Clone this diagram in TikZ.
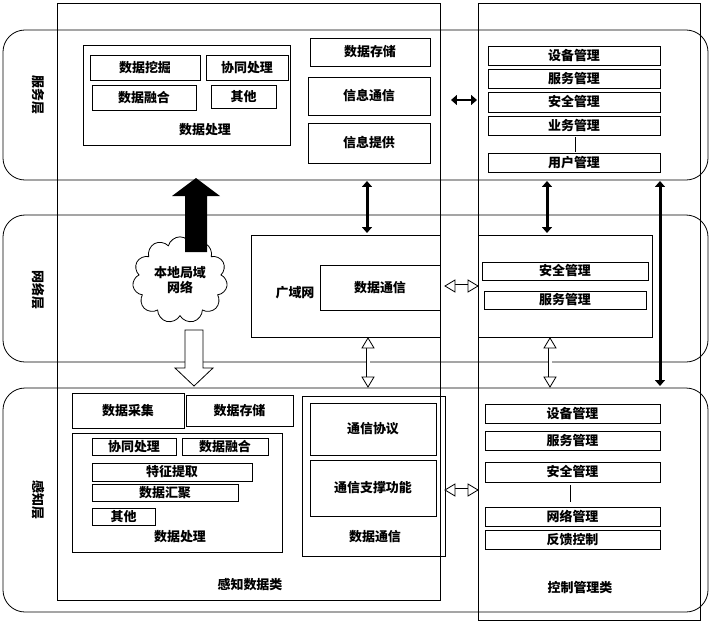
\documentclass[tikz,border=0pt]{standalone}
\usepackage{fontspec}
\setmainfont{Noto Sans CJK SC}
\usetikzlibrary{arrows.meta,shapes.geometric,shapes.symbols}
\begin{document}
\begin{tikzpicture}[x=0.0352cm,y=-0.0352cm,font=\fontsize{13}{15}\selectfont\bfseries]
\tikzstyle{box} = [rectangle, draw, thick, inner sep=0pt]
\tikzstyle{layer} = [rectangle, draw, thick, rounded corners=22pt]
\tikzstyle{tag} = [inner sep=1pt]
\tikzstyle{bigtwo} = [line width=3pt, {Triangle[length=6pt,width=10pt]}-{Triangle[length=6pt,width=10pt]}]
\tikzstyle{hollow} = [double, double distance=3pt, thick, white, draw=black]
\useasboundingbox (0,0) rectangle (711,627);
% columns
\draw[thick] (57,3) rectangle (440,600);
\draw[thick] (478,3) rectangle (700,620);
\node[tag] (col1) at (250,585) {感知数据类};
\node[tag] (col2) at (580,588) {控制管理类};
% layers
\draw[layer] (3,30) rectangle (708,180);
\draw[layer] (3,215) rectangle (708,362);
\draw[layer] (3,388) rectangle (708,612);
\node[tag,rotate=-90] (l1) at (38,95) {服务层};
\node[tag,rotate=-90] (l2) at (38,290) {网络层};
\node[tag,rotate=-90] (l3) at (38,500) {感知层};
% service layer
\draw[box] (83,45) rectangle (290,145);
\foreach \a/\b/\c/\d/\t in {90/55/200/80/数据挖掘, 206/55/288/80/协同处理, 92/85/196/110/数据融合, 211/85/276/108/其他,
  310/38/430/66/数据存储, 308/77/430/115/信息通信, 308/123/430/163/信息提供,
  488/46/660/65/设备管理, 488/69/660/88/服务管理, 488/92/660/112/安全管理, 488/116/660/135/业务管理, 488/153/660/172/用户管理}
  \draw[box] (\a,\b) rectangle node {\t} (\c,\d);
\node[tag] (proc1) at (205,130) {数据处理};
\draw (575,137) -- (575,152);
% network layer
\draw[box] (251,235) rectangle (440,337);
\draw[box] (478,235) rectangle (652,337);
\node[tag] (wan) at (295,293) {广域网};
\draw[box] (320,265) rectangle node {数据通信} (440,310);
\draw[box] (482,262) rectangle node {安全管理} (648,280);
\draw[box] (484,291) rectangle node {服务管理} (646,309);
\node[cloud, draw, thick, fill=white, cloud puffs=11, minimum width=95, minimum height=85, align=center, inner sep=0pt] (lan) at (180,280) {本地局域\\网络};
% perception layer
\draw[box] (72,393) rectangle node {数据采集} (184,428);
\draw[box] (186,395) rectangle node {数据存储} (293,426);
\draw[box] (72,433) rectangle (282,552);
\foreach \a/\b/\c/\d/\t in {92/438/176/455/协同处理, 182/438/268/455/数据融合, 92/463/252/481/特征提取, 92/484/238/501/数据汇聚, 92/508/155/525/其他,
  310/403/436/455/通信协议, 310/460/436/516/通信支撑功能,
  485/404/660/423/设备管理, 485/431/660/450/服务管理, 485/462/660/482/安全管理, 485/507/660/526/网络管理, 485/530/660/549/反馈控制}
  \draw[box] (\a,\b) rectangle node {\t} (\c,\d);
\draw[box] (302,396) rectangle (445,556);
\node[tag] (proc3) at (180,537) {数据处理};
\node[tag] (comm3) at (375,537) {数据通信};
\draw (570,485) -- (570,502);
% arrows
\fill (185,252) -- (185,196) -- (172,196) -- (196,178) -- (220,196) -- (207,196) -- (207,252) -- cycle;
\draw[thick,fill=white] (185,330) -- (185,368) -- (175,368) -- (194,386) -- (213,368) -- (203,368) -- (203,330) -- cycle;
\draw[bigtwo] (451,100) -- (477,100);
\draw[bigtwo] (367,181) -- (367,233);
\draw[bigtwo] (547,181) -- (547,233);
\draw[bigtwo] (660,181) -- (660,386);
\foreach \x/\y in {368/338, 550/338} {
  \draw[hollow] (\x,\y+8) -- (\x,\y+41);
  \draw[thick,fill=white] (\x-6,\y+10) -- (\x,\y) -- (\x+6,\y+10) -- cycle;
  \draw[thick,fill=white] (\x-6,\y+39) -- (\x,\y+49) -- (\x+6,\y+39) -- cycle;
}
\foreach \y in {286, 490} {
  \draw[hollow] (453,\y) -- (470,\y);
  \draw[thick,fill=white] (455,\y-6) -- (445,\y) -- (455,\y+6) -- cycle;
  \draw[thick,fill=white] (468,\y-6) -- (478,\y) -- (468,\y+6) -- cycle;
}
\end{tikzpicture}
\end{document}
